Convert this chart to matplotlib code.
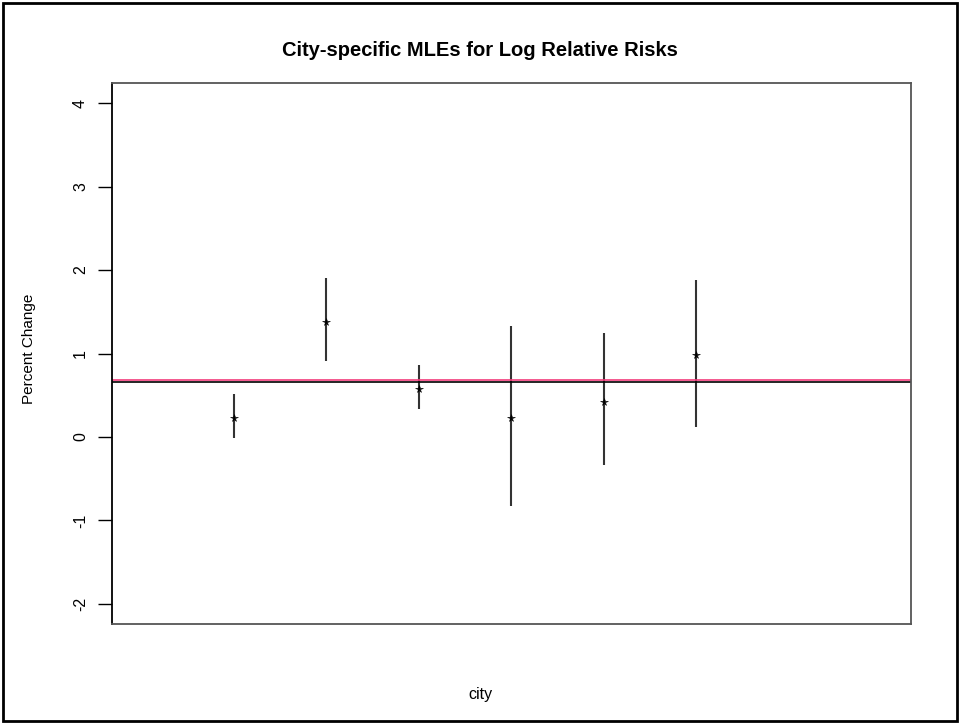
import matplotlib.pyplot as plt
import numpy as np

# city-specific estimates with lower/upper interval limits
city = [1, 2, 3, 4, 5, 6]
mle = [0.225, 1.378, 0.57, 0.226, 0.418, 0.987]
lower = [-0.01, 0.906, 0.334, -0.83, -0.334, 0.118]
upper = [0.51, 1.90, 0.858, 1.327, 1.24, 1.88]

# pooled estimates drawn as horizontal reference lines
pooled_a = 0.678
pooled_b = 0.654

yticks = [-2, -1, 0, 1, 2, 3, 4]

plt.rcParams['font.family'] = ['Liberation Sans', 'DejaVu Sans']

fig = plt.figure(figsize=(9.6, 7.23), dpi=100)
ax = fig.add_axes([111.7 / 960, 99 / 723, 799.3 / 960, 541 / 723])

ax.vlines(city, lower, upper, color='#333333', linewidth=1.5)
ax.plot(city, mle, linestyle='none', marker='*', markersize=5.5,
        markeredgewidth=0.4, color='black')
ax.axhline(pooled_a, color='#f23c7c', linewidth=1.2)
ax.axhline(pooled_b, color='black', linewidth=1.2)

# R-style 4% padding around the data range
ax.set_xlim(-0.32, 8.32)
ax.set_ylim(-2.24, 4.24)

ax.set_xticks([])
ax.set_yticks(yticks)
ax.set_yticklabels([str(t) for t in yticks], rotation=90, va='center', fontsize=11.5)
ax.tick_params(axis='y', length=10, width=1, pad=7)

for side in ['top', 'right', 'bottom']:
    ax.spines[side].set_color('#555555')
    ax.spines[side].set_linewidth(1.3)
ax.spines['left'].set_color('black')
ax.spines['left'].set_linewidth(1.3)

fig.text(29 / 960, 1 - 349 / 723, 'Percent Change', rotation=90,
         ha='center', va='center', fontsize=11)
fig.text(0.5, 1 - 694 / 723, 'city', ha='center', va='center', fontsize=11.5)
fig.text(0.5, 1 - 50 / 723, 'City-specific MLEs for Log Relative Risks',
         ha='center', va='center', fontsize=14.5, fontweight='bold')

# frame around the whole figure
border = plt.Rectangle((3 / 960, 2 / 723), 954 / 960, 718 / 723, transform=fig.transFigure,
                       fill=False, edgecolor='black', linewidth=2)
fig.patches.append(border)

plt.savefig('out.png', dpi=100)
plt.close()
